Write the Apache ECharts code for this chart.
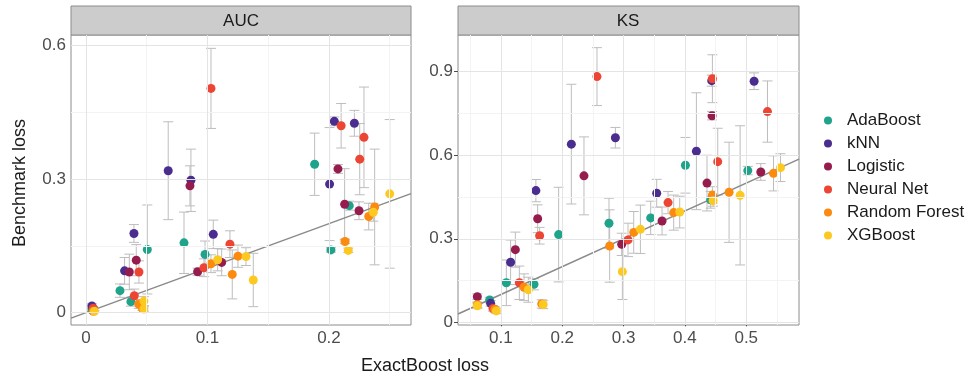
<!DOCTYPE html>
<html>
<head>
<meta charset="utf-8">
<script src="https://cdn.jsdelivr.net/npm/echarts@6/dist/echarts.min.js"></script>
<style>
  html, body { margin: 0; padding: 0; background: #fff; }
  #chart { width: 978px; height: 376px; }
</style>
</head>
<body>
<div id="chart"></div>
<script>
// models and colours
const models = ['AdaBoost', 'kNN', 'Logistic', 'Neural Net', 'Random Forest', 'XGBoost']
const colors = ['#1FA38A', '#4A2D8F', '#961C4E', '#EC4534', '#FB8A0E', '#FDC921']

// AUC panel: [ExactBoost loss, Benchmark loss, error half-width]
const aucAdaBoost = [[0.005, 0.006, 0.003], [0.028, 0.0495, 0.015], [0.037, 0.0247, 0.01], [0.0505, 0.142, 0.1], [0.0807, 0.157, 0.069], [0.098, 0.131, 0.03], [0.1882, 0.3335, 0.07], [0.2167, 0.2405, 0.01], [0.2016, 0.141, 0.005]]
const aucKnn = [[0.0049, 0.015, 0.005], [0.0318, 0.094, 0.03], [0.0395, 0.178, 0.02], [0.0677, 0.319, 0.11], [0.0864, 0.2975, 0.07], [0.1048, 0.176, 0.032], [0.2044, 0.43, 0.01], [0.2005, 0.289, 0.127], [0.2209, 0.4256, 0.029]]
const aucLogistic = [[0.006, 0.008, 0.003], [0.0357, 0.0915, 0.04], [0.0414, 0.118, 0.035], [0.0856, 0.285, 0.045], [0.0919, 0.092, 0.008], [0.1117, 0.113, 0.03], [0.2074, 0.323, 0.01], [0.2129, 0.2436, 0.08], [0.2247, 0.229, 0.02]]
const aucNeuralNet = [[0.006, 0.01, 0.004], [0.0398, 0.038, 0.015], [0.0436, 0.0915, 0.025], [0.1029, 0.504, 0.09], [0.0971, 0.101, 0.02], [0.1185, 0.154, 0.03], [0.21, 0.42, 0.05], [0.2288, 0.394, 0.113], [0.2253, 0.345, 0.08]]
const aucRandomForest = [[0.006, 0.003, 0.002], [0.0434, 0.0196, 0.01], [0.0465, 0.01, 0.005], [0.1029, 0.11, 0.02], [0.1251, 0.127, 0.025], [0.1204, 0.086, 0.055], [0.2132, 0.16, 0.005], [0.2376, 0.2375, 0.13], [0.2327, 0.216, 0.03]]
const aucXGBoost = [[0.007, 0.003, 0.002], [0.0477, 0.026, 0.01], [0.0477, 0.0083, 0.005], [0.1084, 0.119, 0.025], [0.1317, 0.126, 0.02], [0.1377, 0.0735, 0.06], [0.2159, 0.14, 0.005], [0.2365, 0.2256, 0.02], [0.25, 0.267, 0.167]]

// KS panel
const ksAdaBoost = [[0.0816, 0.08, 0.01], [0.1088, 0.142, 0.082], [0.1539, 0.1365, 0.02], [0.1941, 0.315, 0.17], [0.2762, 0.3557, 0.09], [0.3442, 0.375, 0.06], [0.4008, 0.564, 0.1], [0.442, 0.44, 0.03], [0.5025, 0.545, 0.015]]
const ksKnn = [[0.0832, 0.068, 0.01], [0.1158, 0.2155, 0.08], [0.157, 0.473, 0.04], [0.2148, 0.64, 0.215], [0.2866, 0.663, 0.037], [0.354, 0.4635, 0.05], [0.4187, 0.6145, 0.21], [0.4437, 0.868, 0.02], [0.5128, 0.866, 0.03]]
const ksLogistic = [[0.0615, 0.092, 0.01], [0.1235, 0.261, 0.063], [0.1599, 0.372, 0.05], [0.2354, 0.526, 0.14], [0.2969, 0.28, 0.04], [0.3627, 0.364, 0.05], [0.436, 0.5, 0.1], [0.4442, 0.742, 0.015], [0.5237, 0.54, 0.03]]
const ksNeuralNet = [[0.087, 0.05, 0.01], [0.13, 0.142, 0.06], [0.1631, 0.311, 0.03], [0.2566, 0.8825, 0.104], [0.3072, 0.296, 0.06], [0.3725, 0.43, 0.04], [0.4448, 0.875, 0.086], [0.4535, 0.577, 0.12], [0.5346, 0.757, 0.11]]
const ksRandomForest = [[0.0615, 0.063, 0.01], [0.09, 0.046, 0.01], [0.1376, 0.126, 0.048], [0.1665, 0.066, 0.015], [0.2773, 0.274, 0.13], [0.3165, 0.323, 0.075], [0.3817, 0.394, 0.063], [0.4448, 0.457, 0.03], [0.472, 0.467, 0.18], [0.5444, 0.535, 0.063]]
const ksXGBoost = [[0.0615, 0.059, 0.01], [0.0925, 0.041, 0.01], [0.1447, 0.117, 0.045], [0.169, 0.064, 0.015], [0.298, 0.182, 0.1], [0.3274, 0.334, 0.087], [0.3915, 0.396, 0.057], [0.4459, 0.437, 0.02], [0.49, 0.456, 0.25], [0.5558, 0.5556, 0.05]]

const aucData = [aucAdaBoost, aucKnn, aucLogistic, aucNeuralNet, aucRandomForest, aucXGBoost]
const ksData = [ksAdaBoost, ksKnn, ksLogistic, ksNeuralNet, ksRandomForest, ksXGBoost]

// axis extents and ticks
const aucXRange = [-0.0123, 0.2675]
const aucYRange = [-0.0277, 0.624]
const ksXRange = [0.03, 0.586]
const ksYRange = [-0.0097, 1.032]
const aucXTicks = [0, 0.1, 0.2]
const aucXMinor = [0.05, 0.15, 0.25]
const aucYTicks = [0, 0.3, 0.6]
const aucYMinor = [0.15, 0.45]
const ksXTicks = [0.1, 0.2, 0.3, 0.4, 0.5]
const ksXMinor = [0.05, 0.15, 0.25, 0.35, 0.45, 0.55]
const ksYTicks = [0, 0.3, 0.6, 0.9]
const ksYMinor = [0.15, 0.45, 0.75]

const font = '"Liberation Sans", Arial, sans-serif'
const chart = echarts.init(document.getElementById('chart'))

function valueAxis(idx, range, ticks) {
	return {
		type: 'value',
		gridIndex: idx,
		min: range[0],
		max: range[1],
		splitLine: { show: false },
		axisLine: { show: false },
		axisTick: { show: true, customValues: ticks, length: 4, lineStyle: { color: '#4d4d4d' } },
		axisLabel: { customValues: ticks, color: '#4d4d4d', fontSize: 17, fontFamily: font, margin: 5 }
	}
}

function gridLines(idx, xr, xMajor, xMinor, yMajor, yMinor) {
	const major = { color: '#e4e4e4', width: 1, type: 'solid' }
	const minor = { color: '#f3f3f3', width: 1, type: 'solid' }
	const lines = []
	xMinor.forEach(v => lines.push({ xAxis: v, lineStyle: minor }))
	yMinor.forEach(v => lines.push({ yAxis: v, lineStyle: minor }))
	xMajor.forEach(v => lines.push({ xAxis: v, lineStyle: major }))
	yMajor.forEach(v => lines.push({ yAxis: v, lineStyle: major }))
	return {
		type: 'line',
		xAxisIndex: idx,
		yAxisIndex: idx,
		z: 0,
		silent: true,
		showSymbol: false,
		lineStyle: { opacity: 0 },
		data: [[xr[0], xr[0]], [xr[1], xr[1]]],
		markLine: { silent: true, symbol: ['none', 'none'], label: { show: false }, animation: false, data: lines }
	}
}

function errorBars(idx, groups) {
	const all = [].concat(...groups)
	return {
		type: 'custom',
		xAxisIndex: idx,
		yAxisIndex: idx,
		z: 1,
		silent: true,
		data: all,
		renderItem(params, api) {
			const x = api.value(0), y = api.value(1), e = api.value(2)
			const lo = api.coord([x, y - e])
			const hi = api.coord([x, y + e])
			const w = 5
			const style = { stroke: '#bdbdbd', lineWidth: 1 }
			return {
				type: 'group',
				children: [
					{ type: 'line', shape: { x1: lo[0], y1: lo[1], x2: hi[0], y2: hi[1] }, style },
					{ type: 'line', shape: { x1: lo[0] - w, y1: lo[1], x2: lo[0] + w, y2: lo[1] }, style },
					{ type: 'line', shape: { x1: hi[0] - w, y1: hi[1], x2: hi[0] + w, y2: hi[1] }, style }
				]
			}
		}
	}
}

function identityLine(idx, xr) {
	return {
		type: 'line',
		xAxisIndex: idx,
		yAxisIndex: idx,
		z: 1,
		silent: true,
		showSymbol: false,
		lineStyle: { color: '#8a8a8a', width: 1.5 },
		data: [[xr[0], xr[0]], [xr[1], xr[1]]]
	}
}

const series = [
	gridLines(0, aucXRange, aucXTicks, aucXMinor, aucYTicks, aucYMinor),
	gridLines(1, ksXRange, ksXTicks, ksXMinor, ksYTicks, ksYMinor),
	errorBars(0, aucData),
	errorBars(1, ksData),
	identityLine(0, aucXRange),
	identityLine(1, ksXRange)
]
models.forEach((m, i) => {
	[aucData, ksData].forEach((set, idx) => {
		series.push({
			name: m,
			type: 'scatter',
			xAxisIndex: idx,
			yAxisIndex: idx,
			z: 3,
			symbolSize: 9,
			itemStyle: { color: colors[i], opacity: 1 },
			data: set[i].map(p => [p[0], p[1]])
		})
	})
})

chart.setOption({
	animation: false,
	color: colors,
	textStyle: { fontFamily: font },
	grid: [
		{ left: 71, top: 35, width: 340, height: 290, show: true, borderColor: '#8c8c8c', borderWidth: 1, backgroundColor: '#fff' },
		{ left: 458, top: 35, width: 341, height: 290, show: true, borderColor: '#8c8c8c', borderWidth: 1, backgroundColor: '#fff' }
	],
	xAxis: [valueAxis(0, aucXRange, aucXTicks), valueAxis(1, ksXRange, ksXTicks)],
	yAxis: [valueAxis(0, aucYRange, aucYTicks), valueAxis(1, ksYRange, ksYTicks)],
	legend: {
		data: models,
		orient: 'vertical',
		left: 819,
		top: 107,
		icon: 'circle',
		itemWidth: 8,
		itemHeight: 8,
		itemGap: 6,
		textStyle: { fontSize: 17, lineHeight: 17, color: '#1a1a1a', fontFamily: font, padding: [0, 0, 0, 10] }
	},
	graphic: [
		{ type: 'rect', shape: { x: 71, y: 6, width: 340, height: 29 }, style: { fill: '#cccccc', stroke: '#8c8c8c', lineWidth: 1 } },
		{ type: 'rect', shape: { x: 458, y: 6, width: 341, height: 29 }, style: { fill: '#cccccc', stroke: '#8c8c8c', lineWidth: 1 } },
		{ type: 'text', x: 241, y: 21, style: { text: 'AUC', fill: '#1a1a1a', font: '17px ' + font, textAlign: 'center', textVerticalAlign: 'middle' } },
		{ type: 'text', x: 628, y: 21, style: { text: 'KS', fill: '#1a1a1a', font: '17px ' + font, textAlign: 'center', textVerticalAlign: 'middle' } },
		{ type: 'text', x: 425, y: 366, style: { text: 'ExactBoost loss', fill: '#1a1a1a', font: '18px ' + font, textAlign: 'center', textVerticalAlign: 'middle' } },
		{ type: 'text', x: 20, y: 183, rotation: Math.PI / 2, style: { text: 'Benchmark loss', fill: '#1a1a1a', font: '18px ' + font, textAlign: 'center', textVerticalAlign: 'middle' } }
	],
	series
})
</script>
</body>
</html>
